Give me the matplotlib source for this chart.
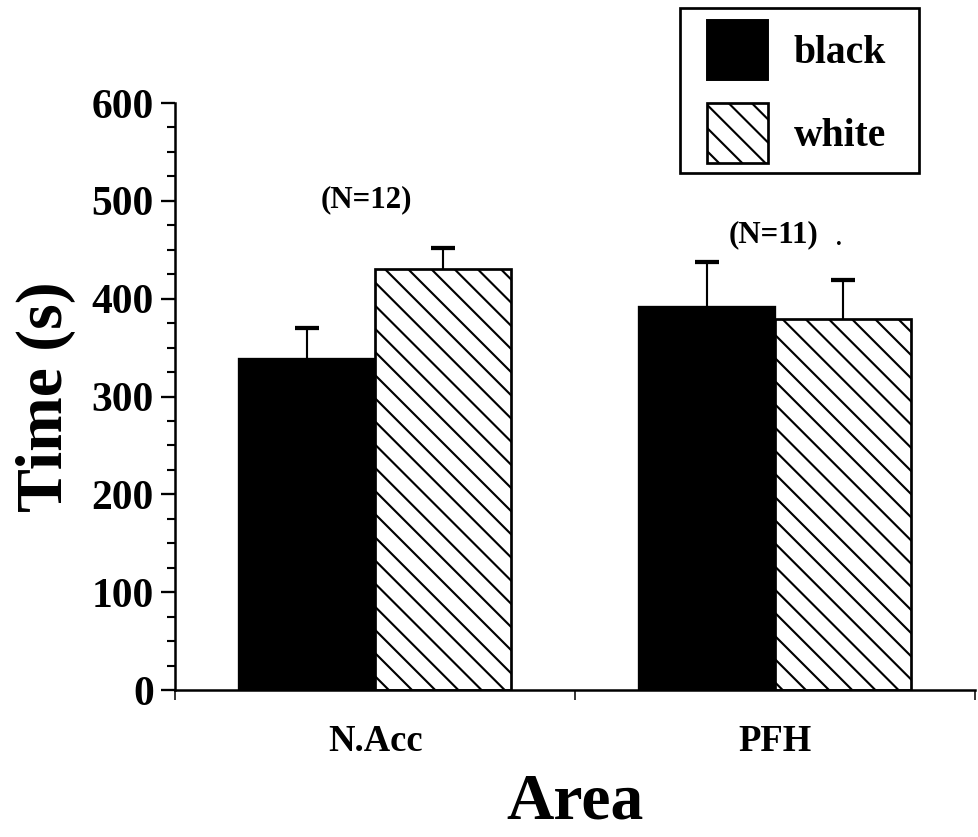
import matplotlib
matplotlib.use('Agg')
import matplotlib.pyplot as plt
from matplotlib.patches import Patch, Rectangle

# Time spent in each area (s), mean and SEM
areas = ['N.Acc', 'PFH']
black_mean = [338, 392]
black_sem = [32, 45]
white_mean = [430, 379]
white_sem = [22, 40]
n_labels = ['(N=12)', '(N=11)']

plt.rcParams['font.family'] = ['Liberation Serif', 'DejaVu Serif']
plt.rcParams['font.weight'] = 'bold'
plt.rcParams['hatch.linewidth'] = 1.1
plt.rcParams['hatch.color'] = 'black'

DPI = 139
fig = plt.figure(figsize=(978 / DPI, 837 / DPI), dpi=DPI)
ax = fig.add_axes([0.179, 0.1756, 0.818, 0.7013])

centers = [0.5, 1.5]
w = 0.34
bx = [c - w / 2 for c in centers]
wx = [c + w / 2 for c in centers]

ax.bar(bx, black_mean, width=w, color='black', edgecolor='black', linewidth=1.2, zorder=2)
ax.bar(wx, white_mean, width=w, color='white', edgecolor='black', linewidth=1.4,
       hatch='\\\\', zorder=2)

# upper error bars only, with a flat cap on top
for xs, m, e in [(bx, black_mean, black_sem), (wx, white_mean, white_sem)]:
    tops = [a + b for a, b in zip(m, e)]
    ax.vlines(xs, m, tops, color='black', linewidth=1.1, zorder=3)
    ax.plot(xs, tops, linestyle='none', marker='_', markersize=12, markeredgewidth=2.2,
            color='black', zorder=3)

# sample sizes above each group
ax.text(0.478, 501, n_labels[0], ha='center', va='center', fontsize=16, fontweight='bold')
ax.text(1.495, 465, n_labels[1], ha='center', va='center', fontsize=16, fontweight='bold')
ax.text(1.66, 460, '.', ha='center', va='center', fontsize=12, fontweight='bold')

ax.set_xlim(0, 2)
ax.set_ylim(0, 600)

for side in ['top', 'right']:
    ax.spines[side].set_visible(False)
ax.spines['left'].set_linewidth(1.3)
ax.spines['bottom'].set_linewidth(1.3)

ax.set_yticks(range(0, 601, 100))
ax.set_yticks(range(0, 601, 25), minor=True)
ax.tick_params(axis='y', which='major', direction='out', length=7.5, width=1.2,
               labelsize=21.5, pad=3.5)
ax.tick_params(axis='y', which='minor', direction='out', length=4, width=1.1)

ax.set_xticks([0, 1, 2])
ax.set_xticklabels([])
ax.set_xticks(centers, minor=True)
ax.set_xticklabels(areas, minor=True)
ax.tick_params(axis='x', which='major', direction='out', length=5, width=0.8)
ax.tick_params(axis='x', which='minor', length=0, labelsize=19, pad=17.5)
for lbl in ax.get_yticklabels() + ax.get_xticklabels(minor=True):
    lbl.set_fontweight('bold')

ax.set_ylabel('Time (s)', fontsize=34, fontweight='bold', labelpad=8)
ax.set_xlabel('Area', fontsize=34, fontweight='bold', labelpad=7)

# legend: squares and labels, boxed by a plain frame
handles = [Patch(facecolor='black', edgecolor='black', label='black'),
           Patch(facecolor='white', edgecolor='black', hatch='\\\\', linewidth=1.4, label='white')]
fig.legend(handles=handles, loc='upper left', bbox_to_anchor=(707 / 978, 1 - 20 / 837),
           frameon=False, prop={'weight': 'bold', 'size': 20.5},
           handlelength=1.54, handleheight=1.954, handletextpad=0.65,
           labelspacing=0.58, borderpad=0, borderaxespad=0)
fig.add_artist(Rectangle((680 / 978, 1 - 173 / 837), 239 / 978, 165 / 837,
                         transform=fig.transFigure, fill=False, edgecolor='black', linewidth=1.4))

fig.savefig('out.png', dpi=DPI)
